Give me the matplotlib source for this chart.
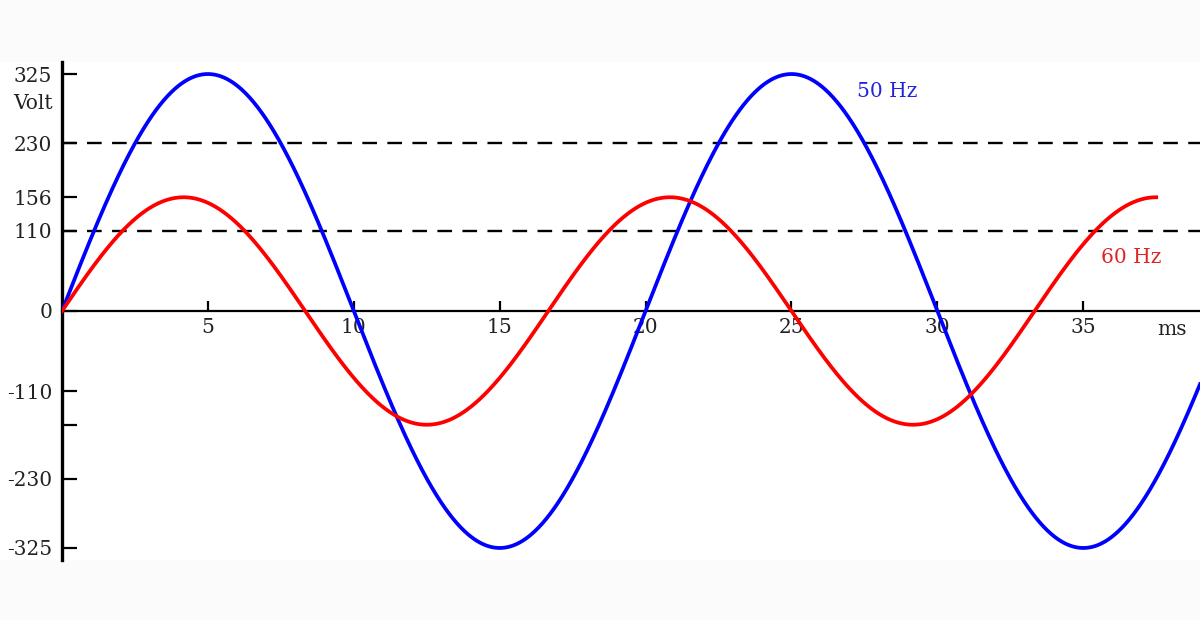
import numpy as np
import matplotlib
matplotlib.use("Agg")
import matplotlib.pyplot as plt
from matplotlib.patches import Rectangle

# Mains voltage waveforms: frequency (Hz), peak voltage (V), drawn duration (ms)
labels = ["50 Hz", "60 Hz"]
freqs_hz = [50, 60]
peaks_v = [325, 156]
durations_ms = [39.0, 37.5]
colors = ["#0000ff", "#ff0000"]

# RMS reference levels (dashed lines)
rms_levels = [230, 110]

y_ticks = [325, 230, 156, 110, 0, -110, -156, -230, -325]
y_tick_labels = ["325", "230", "156", "110", "0", "-110", "", "-230", "-325"]
x_ticks = [5, 10, 15, 20, 25, 30, 35]

fig = plt.figure(figsize=(12, 6.2), dpi=100, facecolor="#fbfbfb")
# white band behind the plot
fig.patches.append(Rectangle((0, 60 / 620), 1, 498 / 620, transform=fig.transFigure,
                             facecolor="white", edgecolor="none", zorder=-5))

ax = fig.add_axes([62 / 1200, 60 / 620, 1 - 62 / 1200, 498 / 620])
ax.set_facecolor("none")
ax.set_zorder(2)

for f, a, d, c in zip(freqs_hz, peaks_v, durations_ms, colors):
    t = np.linspace(0, d, 1500)
    ax.plot(t, a * np.sin(2 * np.pi * f * t / 1000), color=c, lw=2.7, zorder=3)

for lvl in rms_levels:
    ax.axhline(lvl, color="black", lw=1.7, ls=(0, (6.2, 4.4)), zorder=2)

ax.set_xlim(0, 39)
ax.set_ylim(-341.5, 341.5)

for s in ["top", "right"]:
    ax.spines[s].set_visible(False)
ax.spines["bottom"].set_position(("data", 0))
ax.spines["bottom"].set_linewidth(1.6)
ax.spines["left"].set_linewidth(2.4)

serif = "DejaVu Serif"
fs = 14.5
tc = "#222222"
ax.set_yticks(y_ticks)
ax.set_yticklabels(y_tick_labels, fontfamily=serif, fontsize=fs, color=tc)
ax.set_xticks(x_ticks)
ax.set_xticklabels([str(x) for x in x_ticks], fontfamily=serif, fontsize=fs, color=tc)
ax.tick_params(axis="y", direction="in", length=11, width=1.6, pad=7)
ax.tick_params(axis="x", direction="in", length=7, width=1.6, pad=5)

ax.text(-0.008, 285, "Volt", transform=ax.get_yaxis_transform(), ha="right", va="center",
        fontfamily=serif, fontsize=fs, color=tc)
ax.text(37.55, -25, "ms", ha="left", va="center", fontfamily=serif, fontsize=fs, color=tc)
ax.text(27.25, 301, labels[0], ha="left", va="center", fontfamily=serif, fontsize=fs, color="#2424e0")
ax.text(35.6, 73, labels[1], ha="left", va="center", fontfamily=serif, fontsize=fs, color="#e02424")

fig.savefig("out.png", dpi=100, facecolor=fig.get_facecolor())
